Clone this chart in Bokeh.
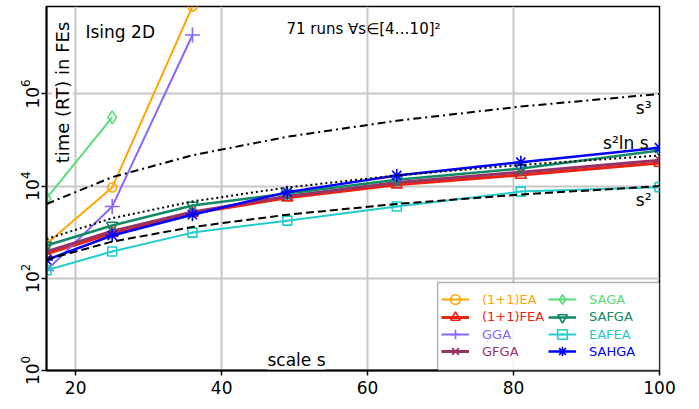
import math
from bokeh.plotting import figure
from bokeh.models import Range1d, FixedTicker, Label, Legend, LegendItem, BoxAnnotation
from bokeh.embed import file_html
from bokeh.resources import INLINE

# ---- data ----
scale_s = [16, 25, 36, 49, 64, 81, 100]

ea_11 = [560, 9300, 7.9e7]          # (1+1)EA
fea_11 = [340, 950, 2570, 5600, 10700, 17400, 31600]   # (1+1)FEA
gga = [148, 3600, 1.9e7]            # GGA
gfga = [380, 1050, 2750, 6000, 12000, 20000, 36300]    # GFGA
saga = [5400, 310000]               # SAGA
safga = [515, 1400, 3800, 6900, 13800, 24000, 59000]   # SAFGA
eafea = [150, 380, 980, 1780, 3600, 7600, 9500]        # EAFEA
sahga = [250, 850, 2400, 7400, 17000, 33000, 68000]    # SAHGA

ref_s3 = [4096, 15625, 46656, 117649, 262144, 531441, 1000000]
ref_s2lns = [710, 2012, 4644, 9344, 17035, 28832, 46052]
ref_s2 = [256, 625, 1296, 2401, 4096, 6561, 10000]

x_ticks = [20, 40, 60, 80, 100]
y_ticks = [1, 1e2, 1e4, 1e6]

FONT = "DejaVu Sans"

p = figure(width=690, height=400, y_axis_type="log",
           x_range=Range1d(16, 100), y_range=Range1d(1, 10 ** 7.896),
           output_backend="svg", toolbar_location=None,
           min_border_left=46, min_border_right=31,
           min_border_top=6, min_border_bottom=30)
p.outline_line_color = "black"
p.outline_line_width = 1.5
p.background_fill_color = "white"

p.xaxis.ticker = FixedTicker(ticks=x_ticks, minor_ticks=[])
p.yaxis.ticker = FixedTicker(ticks=y_ticks, minor_ticks=[])
for ax in (p.xaxis, p.yaxis):
    ax.axis_line_color = "black"
    ax.axis_line_width = 2
    ax.major_tick_line_color = "black"
    ax.major_tick_line_width = 1.5
    ax.major_tick_in = 0
    ax.major_tick_out = 5
    ax.minor_tick_line_color = None
    ax.major_label_text_font = FONT
    ax.major_label_text_font_size = "17px"
    ax.major_label_text_color = "black"
p.xaxis.major_label_standoff = 5
p.yaxis.major_label_standoff = 3
p.yaxis.major_label_orientation = "vertical"

for g in (p.xgrid, p.ygrid):
    g.grid_line_color = "#c8c8c8"
    g.grid_line_width = 2

series = [
    ("(1+1)EA", ea_11, "#ffa500", "circle", 9, 2),
    ("(1+1)FEA", fea_11, "#ee2211", "triangle", 11, 3),
    ("GGA", gga, "#8866ff", "cross", 15, 2),
    ("GFGA", gfga, "#993366", "x", 10, 3),
    ("SAGA", saga, "#55dd77", "diamond", 13, 2),
    ("SAFGA", safga, "#118866", "inverted_triangle", 11, 2.5),
    ("EAFEA", eafea, "#22cccc", "square_dot", 9, 2),
    ("SAHGA", sahga, "#0000ff", "asterisk", 13, 2.5),
]

rends = []
for name, ys, col, mk, sz, lw in series:
    xs = scale_s[:len(ys)]
    lr = p.line(xs, ys, line_color=col, line_width=lw)
    sr = p.scatter(xs, ys, marker=mk, size=sz, line_color=col,
                   fill_color=None, line_width=1.6)
    rends.append((name, col, lr, sr))

p.line(scale_s, ref_s3, line_color="black", line_width=2, line_dash="8 4 2 4")
p.line(scale_s, ref_s2lns, line_color="black", line_width=2, line_dash="2 3")
p.line(scale_s, ref_s2, line_color="black", line_width=2, line_dash="8 4")

def add_label(text, x, y, size, align="left", baseline="alphabetic", angle=0, bg=None):
    lab = Label(x=x, y=y, x_units="screen", y_units="screen", text=text,
                text_font=FONT, text_font_size=size, text_color="black",
                text_align=align, text_baseline=baseline, angle=angle)
    if bg:
        lab.background_fill_color = bg
    p.add_layout(lab)

add_label("time (RT) in FEs", 16, 278, "18px", align="center", baseline="middle",
          angle=math.pi / 2, bg="white")
add_label("Ising 2D", 39, 339, "17px", bg="white")
add_label("71 runs \u2200s\u2208[4\u202610]\u00b2", 317, 342, "15px", align="center")
add_label("scale s", 250, 11, "17px", align="center", bg="white")
add_label("s\u00b3", 605, 263, "17px", align="right")
add_label("s\u00b2ln s", 602, 228, "17px", align="right")
add_label("s\u00b2", 605, 171, "17px", align="right")

# legend frame
box = BoxAnnotation(left=69.6, right=100, bottom=1, top=81,
                    fill_color="white", fill_alpha=0.85,
                    line_color="black", line_width=1.5)
p.add_layout(box)

col_x = [395, 502]
row_bottom = [58.7, 41.3, 24, 6.7]
for i, (name, col, lr, sr) in enumerate(rends):
    c, r = divmod(i, 4)
    leg = Legend(items=[LegendItem(label=name, renderers=[lr, sr])],
                 location=(col_x[c], row_bottom[r]),
                 label_text_color=col, label_text_font=FONT,
                 label_text_font_size="13px",
                 glyph_width=28, glyph_height=24, label_height=24,
                 label_standoff=13, padding=0, margin=0, spacing=0,
                 border_line_alpha=0, background_fill_alpha=0)
    p.add_layout(leg)

open("out.html", "w").write(file_html(p, INLINE))
